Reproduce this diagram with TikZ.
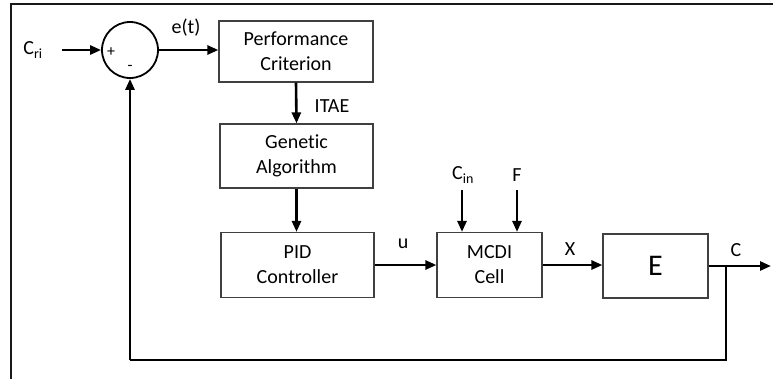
\documentclass[tikz,border=0pt]{standalone}
\usepackage{fontspec}
\setmainfont[Ligatures=NoCommon]{Carlito}
\usetikzlibrary{arrows.meta}
\begin{document}
\begin{tikzpicture}[x=1bp,y=-1bp,
  blk/.style={draw=black!75,line width=1.2bp,fill=white,align=center,inner sep=0pt,
    font=\fontsize{20bp}{25bp}\selectfont},
  lbl/.style={inner sep=0pt,font=\fontsize{20bp}{24bp}\selectfont},
  sig/.style={line width=2.6bp,-{Triangle[length=11bp,width=9bp]}},
  wire/.style={line width=2.6bp},
  frame/.style={line width=1.5bp,black!90}]
\useasboundingbox (0,0) rectangle (773,379);
% frame
\coordinate (ftr) at (773,4);
\coordinate (ftl) at (11,4);
\coordinate (fbl) at (11,379);
\draw[frame] (ftr) -- (ftl) -- (fbl);
% summing junction
\node[circle,draw,line width=1.8bp,minimum size=56bp,inner sep=0pt] (sum) at (130,50) {};
\node[inner sep=0pt,font=\fontsize{16bp}{18bp}\selectfont] (plus) at (111,52) {+};
\node[inner sep=0pt,font=\fontsize{16bp}{18bp}\selectfont] (minus) at (130,68) {-};
% blocks
\node[blk,minimum width=154bp,minimum height=61bp] (pc) at (296,51.5) {Performance\\Criterion};
\node[blk,minimum width=153bp,minimum height=64bp] (ga) at (296.5,156) {Genetic\\Algorithm};
\node[blk,minimum width=153bp,minimum height=65bp] (pid) at (297.5,265) {PID\\Controller};
\node[blk,minimum width=105bp,minimum height=65bp] (mcdi) at (489.5,265) {MCDI\\Cell};
\node[blk,minimum width=105bp,minimum height=64bp,font=\fontsize{30bp}{32bp}\selectfont] (e) at (655.5,266) {E};
% labels
\node[lbl] (cri) at (33,50) {C\textsubscript{ri}};
\node[lbl] (et) at (186,28) {e(t)};
\node[lbl] (itae) at (332,106) {ITAE};
\node[lbl] (u) at (403,244) {u};
\node[lbl] (cin) at (463,175) {C\textsubscript{in}};
\node[lbl] (f) at (517,175) {F};
\node[lbl] (x) at (570,249) {X};
\node[lbl] (c) at (736,250) {C};
% connectors
\coordinate (crin) at (62,50);
\draw[sig] (crin) -- (sum.west);
\draw[sig] (sum.east) -- (sum.east -| pc.west);
\draw[sig] (pc.south) -- (ga.north);
\draw[sig] (ga.south) -- (ga.south |- pid.north);
\draw[sig] (pid.east) -- (pid.east -| mcdi.west);
\coordinate (cinst) at (462,190);
\coordinate (fst) at (517,190);
\draw[sig] (cinst) -- (cinst |- mcdi.north);
\draw[sig] (fst) -- (fst |- mcdi.north);
\draw[sig] (mcdi.east) -- (mcdi.east -| e.west);
\coordinate (out) at (771,266);
\draw[sig] (e.east) -- (out);
\coordinate (br) at (726,266);
\coordinate (fb1) at (726,360);
\coordinate (fb2) at (130,360);
\draw[wire] (br) -- (fb1) -- (fb2);
\draw[sig] (fb2) -- (sum.south);
\end{tikzpicture}
\end{document}
